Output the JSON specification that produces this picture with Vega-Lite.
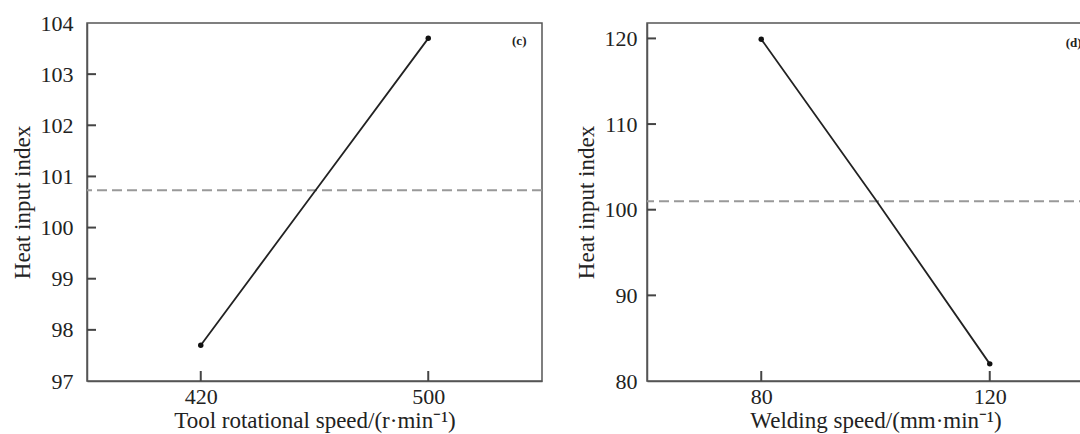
{
  "$schema": "https://vega.github.io/schema/vega-lite/v6.json",
  "padding": {"left": 10, "top": 11, "right": 0, "bottom": 0},
  "background": "white",
  "config": {
    "font": "Liberation Serif",
    "view": {"stroke": "#555", "strokeWidth": 1.5},
    "axis": {
      "domainColor": "#555", "domainWidth": 1.5, "ticks": false,
      "grid": false, "labelFont": "Liberation Serif", "titleFont": "Liberation Serif",
      "labelFontSize": 22, "titleFontSize": 23, "labelColor": "#222", "titleColor": "#222",
      "titleFontWeight": "normal"
    }
  },
  "spacing": 30,
  "hconcat": [
    {
      "width": 455, "height": 358,
      "data": {"values": [
        {"speed": 420, "index": 97.7},
        {"speed": 460, "index": 100.7},
        {"speed": 500, "index": 103.7}
      ]},
      "layer": [
        {
          "data": {"values": [{"mean": 100.73}]},
          "mark": {"type": "rule", "color": "#999", "strokeWidth": 2, "strokeDash": [10, 5]},
          "encoding": {"y": {"field": "mean", "type": "quantitative"}}
        },
        {
          "mark": {"type": "line", "color": "#222", "strokeWidth": 1.8},
          "encoding": {
            "x": {"field": "speed", "type": "quantitative", "scale": {"domain": [380, 540], "nice": false},
              "axis": {"values": [420, 500], "labelPadding": 5, "title": "Tool rotational speed/(r·min⁻¹)", "titlePadding": 2}},
            "y": {"field": "index", "type": "quantitative", "scale": {"domain": [97, 104], "nice": false, "zero": false},
              "axis": {"values": [97, 98, 99, 100, 101, 102, 103, 104], "labelPadding": 14, "title": "Heat input index", "titlePadding": 6}}
          }
        },
        {
          "data": {"values": [{"tick": 98}, {"tick": 99}, {"tick": 100}, {"tick": 101}, {"tick": 102}, {"tick": 103}]},
          "mark": {"type": "tick", "orient": "horizontal", "size": 9, "thickness": 2, "xOffset": 4.5, "color": "#444", "opacity": 1},
          "encoding": {
            "y": {"field": "tick", "type": "quantitative"},
            "x": {"datum": 380, "type": "quantitative"}
          }
        },
        {
          "data": {"values": [{"tick": 420}, {"tick": 500}]},
          "mark": {"type": "tick", "orient": "vertical", "size": 10, "thickness": 2, "yOffset": -5, "color": "#444", "opacity": 1},
          "encoding": {
            "x": {"field": "tick", "type": "quantitative"},
            "y": {"datum": 97, "type": "quantitative"}
          }
        },
        {
          "transform": [{"filter": "datum.speed != 460"}],
          "mark": {"type": "point", "filled": true, "color": "#111", "size": 30, "opacity": 1},
          "encoding": {
            "x": {"field": "speed", "type": "quantitative"},
            "y": {"field": "index", "type": "quantitative"}
          }
        },
        {
          "data": {"values": [{"x": 532, "y": 103.65, "label": "(c)"}]},
          "mark": {"type": "text", "fontSize": 13, "fontWeight": "bold", "color": "#222", "font": "Liberation Serif"},
          "encoding": {
            "x": {"field": "x", "type": "quantitative"},
            "y": {"field": "y", "type": "quantitative"},
            "text": {"field": "label"}
          }
        }
      ]
    },
    {
      "width": 457, "height": 358,
      "data": {"values": [
        {"speed": 80, "index": 119.9},
        {"speed": 100, "index": 101.2},
        {"speed": 120, "index": 82.0}
      ]},
      "layer": [
        {
          "data": {"values": [{"mean": 101.0}]},
          "mark": {"type": "rule", "color": "#999", "strokeWidth": 2, "strokeDash": [10, 5]},
          "encoding": {"y": {"field": "mean", "type": "quantitative"}}
        },
        {
          "mark": {"type": "line", "color": "#222", "strokeWidth": 1.8},
          "encoding": {
            "x": {"field": "speed", "type": "quantitative", "scale": {"domain": [60, 140], "nice": false},
              "axis": {"values": [80, 120], "labelPadding": 5, "title": "Welding speed/(mm·min⁻¹)", "titlePadding": 2}},
            "y": {"field": "index", "type": "quantitative", "scale": {"domain": [80, 121.8], "nice": false, "zero": false},
              "axis": {"values": [80, 90, 100, 110, 120], "labelPadding": 10, "title": "Heat input index", "titlePadding": 6}}
          }
        },
        {
          "data": {"values": [{"tick": 90}, {"tick": 100}, {"tick": 110}, {"tick": 120}]},
          "mark": {"type": "tick", "orient": "horizontal", "size": 9, "thickness": 2, "xOffset": 4.5, "color": "#444", "opacity": 1},
          "encoding": {
            "y": {"field": "tick", "type": "quantitative"},
            "x": {"datum": 60, "type": "quantitative"}
          }
        },
        {
          "data": {"values": [{"tick": 80}, {"tick": 120}]},
          "mark": {"type": "tick", "orient": "vertical", "size": 10, "thickness": 2, "yOffset": -5, "color": "#444", "opacity": 1},
          "encoding": {
            "x": {"field": "tick", "type": "quantitative"},
            "y": {"datum": 80, "type": "quantitative"}
          }
        },
        {
          "transform": [{"filter": "datum.speed != 100"}],
          "mark": {"type": "point", "filled": true, "color": "#111", "size": 30, "opacity": 1},
          "encoding": {
            "x": {"field": "speed", "type": "quantitative"},
            "y": {"field": "index", "type": "quantitative"}
          }
        },
        {
          "data": {"values": [{"x": 133.3, "y": 119.5, "label": "(d)"}]},
          "mark": {"type": "text", "align": "left", "fontSize": 13, "fontWeight": "bold", "color": "#222", "font": "Liberation Serif"},
          "encoding": {
            "x": {"field": "x", "type": "quantitative"},
            "y": {"field": "y", "type": "quantitative"},
            "text": {"field": "label"}
          }
        }
      ]
    }
  ]
}
